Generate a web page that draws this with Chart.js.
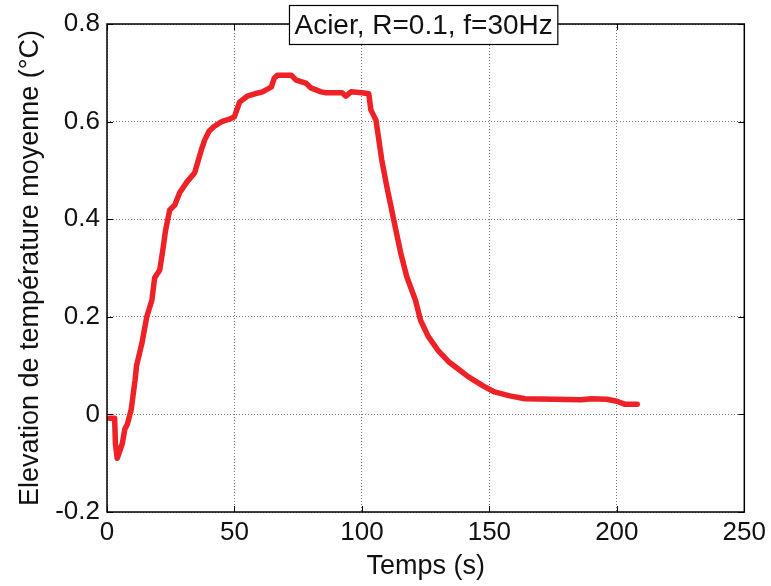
<!DOCTYPE html>
<html>
<head>
<meta charset="utf-8">
<script src="https://cdn.jsdelivr.net/npm/chart.js@4/dist/chart.umd.min.js"></script>
<style>
  html, body { margin: 0; padding: 0; background: #fff; }
  #wrap { width: 771px; height: 586px; }
</style>
</head>
<body>
<div id="wrap"><canvas id="chart" width="771" height="586"></canvas></div>
<script>
// ---- Data ----
const chartTitle = 'Acier, R=0.1, f=30Hz';
const xLabel = 'Temps (s)';
const yLabel = 'Elevation de température moyenne (°C)';

const xTicks = [0, 50, 100, 150, 200, 250];
const yTicks = [-0.2, 0, 0.2, 0.4, 0.6, 0.8];

const timeS = [
  1, 3, 3.3, 4, 5, 6, 7, 8, 9.5, 10, 11, 11.6, 13.7, 15.6, 17.6, 18.7, 20.7, 21.9, 23, 24.6,
  26.6, 28.5, 31.3, 34.4, 35.5, 37, 38.3, 40, 42, 45, 48, 50, 52, 55, 58, 61, 64.5, 65.6, 66.8, 72.3,
  74.2, 78, 80, 84, 86, 92.2, 93.7, 95.7, 100, 102.7, 103.5, 105.5, 107.8, 109.8, 112.5, 115.2, 117.6, 121, 123, 126,
  130, 134, 137, 141.8, 147.7, 152, 158, 164, 186, 190, 196, 200, 203, 208
];
const tempRise = [
  -0.008, -0.008, -0.06, -0.09, -0.075, -0.06, -0.03, -0.02, 0.01, 0.03, 0.07, 0.1, 0.146, 0.2, 0.234, 0.28, 0.296, 0.337, 0.378, 0.419,
  0.429, 0.454, 0.476, 0.495, 0.515, 0.542, 0.562, 0.58, 0.59, 0.6, 0.605, 0.61, 0.64, 0.652, 0.657, 0.661, 0.671, 0.689, 0.695, 0.695,
  0.685, 0.679, 0.669, 0.661, 0.659, 0.659, 0.652, 0.661, 0.659, 0.657, 0.624, 0.603, 0.521, 0.466, 0.398, 0.331, 0.282, 0.234, 0.193, 0.16,
  0.13, 0.108, 0.096, 0.077, 0.058, 0.046, 0.038, 0.032, 0.03, 0.032, 0.031, 0.027, 0.021, 0.021
];

const FONT = 'Liberation Sans, Arial, Helvetica, sans-serif';

// frame, inward ticks and boxed title, matlab style
const matlabFrame = {
  id: 'matlabFrame',
  afterDraw(chart) {
    const { ctx, chartArea: a } = chart;
    const xs = chart.scales.x, ys = chart.scales.y;
    const tl = 6;
    ctx.save();
    ctx.strokeStyle = '#000';
    ctx.lineWidth = 1.5;
    ctx.strokeRect(a.left, a.top, a.right - a.left, a.bottom - a.top);
    ctx.lineWidth = 1;
    ctx.beginPath();
    xTicks.forEach(v => {
      const px = Math.round(xs.getPixelForValue(v)) + 0.5;
      ctx.moveTo(px, a.bottom); ctx.lineTo(px, a.bottom - tl);
      ctx.moveTo(px, a.top); ctx.lineTo(px, a.top + tl);
    });
    yTicks.forEach(v => {
      const py = Math.round(ys.getPixelForValue(v)) + 0.5;
      ctx.moveTo(a.left, py); ctx.lineTo(a.left + tl, py);
      ctx.moveTo(a.right, py); ctx.lineTo(a.right - tl, py);
    });
    ctx.stroke();

    // title box sitting on the top border
    ctx.font = '28px ' + FONT;
    const w = ctx.measureText(chartTitle).width;
    const cx = (a.left + a.right) / 2 - 2;
    const cy = a.top + 1;
    const bw = w + 10, bh = 39;
    ctx.fillStyle = '#fff';
    ctx.fillRect(cx - bw / 2, cy - bh / 2, bw, bh);
    ctx.strokeStyle = '#000';
    ctx.lineWidth = 1.2;
    ctx.strokeRect(cx - bw / 2, cy - bh / 2, bw, bh);
    ctx.fillStyle = '#111';
    ctx.textAlign = 'center';
    ctx.textBaseline = 'middle';
    ctx.fillText(chartTitle, cx, cy + 1);
    ctx.restore();
  }
};

new Chart(document.getElementById('chart').getContext('2d'), {
  type: 'scatter',
  data: {
    datasets: [{
      data: timeS.map((t, i) => ({ x: t, y: tempRise[i] })),
      showLine: true,
      borderColor: '#ee2127',
      borderWidth: 5.5,
      pointRadius: 0,
      tension: 0,
      borderJoinStyle: 'round',
      borderCapStyle: 'round'
    }]
  },
  options: {
    responsive: false,
    animation: false,
    layout: { padding: { top: 24, right: 24, left: 0, bottom: 0 } },
    plugins: { legend: { display: false }, tooltip: { enabled: false } },
    scales: {
      x: {
        type: 'linear',
        min: 0, max: 250,
        afterBuildTicks: s => { s.ticks = xTicks.map(v => ({ value: v })); },
        afterFit: s => { s.height = 74; },
        grid: { color: '#777', lineWidth: 1, drawTicks: false },
        border: { display: false, dash: [1, 2] },
        ticks: { color: '#111', font: { family: FONT, size: 26 }, padding: 5, maxRotation: 0 },
        title: { display: true, text: xLabel, color: '#111', font: { family: FONT, size: 27 }, padding: { top: 0, bottom: 3 } }
      },
      y: {
        type: 'linear',
        min: -0.2, max: 0.8,
        afterBuildTicks: s => { s.ticks = yTicks.map(v => ({ value: v })); },
        afterFit: s => { s.width = 107; },
        grid: { color: '#777', lineWidth: 1, drawTicks: false },
        border: { display: false, dash: [1, 2] },
        ticks: { color: '#111', font: { family: FONT, size: 26 }, padding: 7, callback: v => String(Math.round(v * 10) / 10) },
        title: { display: true, text: yLabel, color: '#111', font: { family: FONT, size: 27 }, padding: { top: 14, bottom: 0 } }
      }
    }
  },
  plugins: [matlabFrame]
});
</script>
</body>
</html>
